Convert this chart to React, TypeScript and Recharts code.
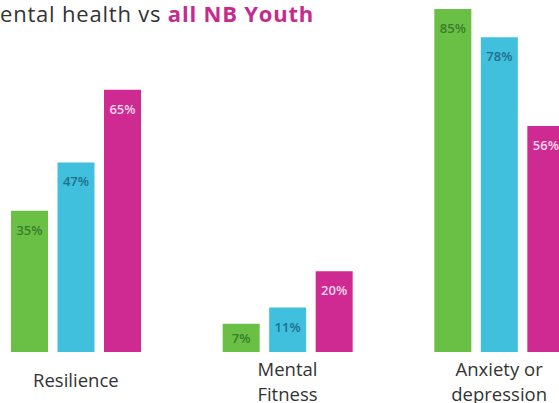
import { BarChart, Bar, XAxis, YAxis, LabelList } from 'recharts'

const categories = ['Resilience', 'Mental\nFitness', 'Anxiety or\ndepression']
const groupA = [35, 7, 85]
const groupB = [47, 11, 78]
const nbYouth = [65, 20, 56]

const data = categories.map((name, i) => ({
  name,
  groupA:  groupA[i],
  groupB:  groupB[i],
  nbYouth: nbYouth[i],
}))

const FONT = '"Open Sans", sans-serif'

function CategoryTick({ x, y, payload }: any) {
  const lines = String(payload.value).split('\n')
  const first = y + 27 - (lines.length - 1) * 11
  return (
    <text x={x} y={first} textAnchor="middle" fill="#333" fontSize={18.5} fontFamily={FONT}>
      {lines.map((l, i) => (
        <tspan key={i} x={x} dy={i === 0 ? 0 : 25}>{l}</tspan>
      ))}
    </text>
  )
}

function barLabel(color: string) {
  return (props: any) => {
    const { x, y, width, height, value } = props
    const cy = height < 40 ? y + height / 2 : y + 19
    return (
      <text x={x + width / 2} y={cy} textAnchor="middle" dominantBaseline="central"
        fill={color} fontSize={13} fontWeight={600} fontFamily={FONT}>
        {value}%
      </text>
    )
  }
}

export default function App() {
  return (
    <div style={{ position: 'absolute', left: 0, top: 0, width: 559, height: 403, overflow: 'hidden', background: '#fff' }}>
      <div style={{ position: 'absolute', left: 0, top: 2, lineHeight: '22px', fontFamily: FONT, fontSize: 22, letterSpacing: 0.8, color: '#333', whiteSpace: 'nowrap' }}>
        ental health vs <span style={{ color: '#c72a8c', fontWeight: 700 }}>all NB Youth</span>
      </div>
      <div style={{ position: 'absolute', left: -30, top: 0 }}>
        <BarChart width={635} height={403} data={data} margin={{ top: 1, right: 0, left: 0, bottom: 0 }} barSize={37} barGap={9.5}>
          <XAxis dataKey="name" height={51} axisLine={false} tickLine={false} interval={0} tick={<CategoryTick />} />
          <YAxis hide domain={[0, 87]} />
          <Bar dataKey="groupA" fill="#6abf45" isAnimationActive={false}>
            <LabelList dataKey="groupA" content={barLabel('#3a7d2c')} />
          </Bar>
          <Bar dataKey="groupB" fill="#40c0dc" isAnimationActive={false}>
            <LabelList dataKey="groupB" content={barLabel('#1f6f8f')} />
          </Bar>
          <Bar dataKey="nbYouth" fill="#cf2a91" isAnimationActive={false}>
            <LabelList dataKey="nbYouth" content={barLabel('#fbd7ea')} />
          </Bar>
        </BarChart>
      </div>
    </div>
  )
}
